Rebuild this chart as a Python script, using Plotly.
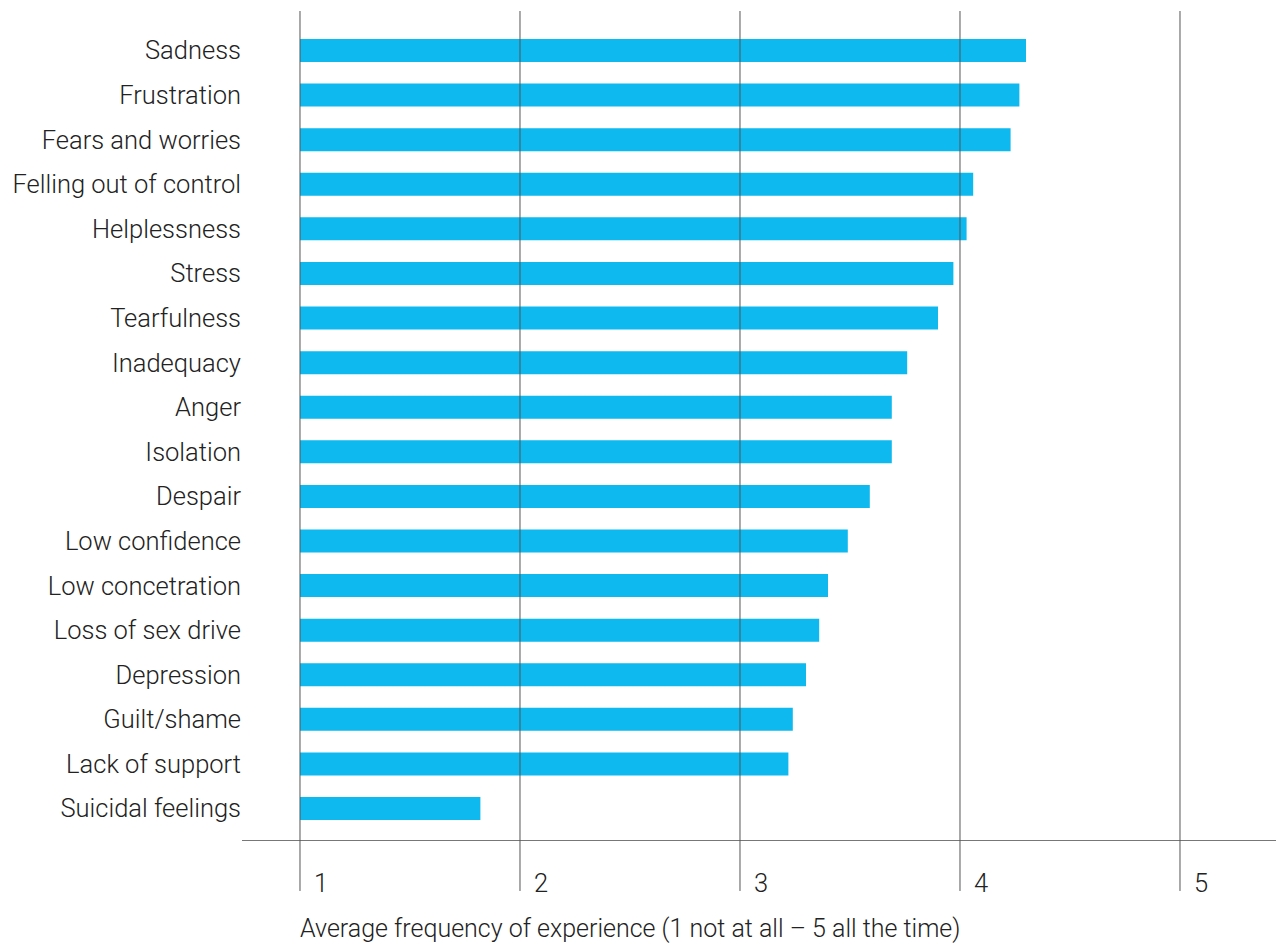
import plotly.graph_objects as go

categories = ["Sadness", "Frustration", "Fears and worries", "Felling out of control",
              "Helplessness", "Stress", "Tearfulness", "Inadequacy", "Anger", "Isolation",
              "Despair", "Low confidence", "Low concetration", "Loss of sex drive",
              "Depression", "Guilt/shame", "Lack of support", "Suicidal feelings"]
values = [4.30, 4.27, 4.23, 4.06, 4.03, 3.97, 3.90, 3.76, 3.69, 3.69,
          3.59, 3.49, 3.40, 3.36, 3.30, 3.24, 3.22, 1.82]
tick_values = [1, 2, 3, 4, 5]
tick_labels = ["1", "2", "3", "4", "5"]
axis_title = "Average frequency of experience (1 not at all – 5 all the time)"

cats = categories[::-1]
vals = values[::-1]
base_val = 1

FONT = dict(family="Roboto", size=25.5, color="#222222", weight=300)
TITLE_FONT = dict(family="Roboto", size=25, color="#222222", weight=300)

fig = go.Figure()
fig.add_trace(go.Bar(
    y=cats, x=[v - base_val for v in vals], base=base_val, orientation="h",
    marker=dict(color="#0DB9EE", line=dict(width=0)), width=0.516,
    hoverinfo="skip",
))

shapes = []
for tv in tick_values:
    shapes.append(dict(type="line", xref="x", yref="paper", x0=tv, x1=tv,
                       y0=-0.0615, y1=1, layer="above",
                       line=dict(color="#555555", width=1)))

annotations = []
for tv, tl in zip(tick_values, tick_labels):
    annotations.append(dict(x=tv, y=-0.052, xref="x", yref="paper", text=tl,
                            showarrow=False, xanchor="left", yanchor="middle",
                            xshift=12, font=FONT))
annotations.append(dict(x=base_val, y=-0.1065, xref="x", yref="paper", text=axis_title,
                        showarrow=False, xanchor="left", yanchor="middle",
                        xshift=-2, font=TITLE_FONT))

fig.update_layout(
    width=1276, height=947,
    margin=dict(l=242, r=0, t=11, b=107),
    paper_bgcolor="white", plot_bgcolor="white",
    showlegend=False,
    font=FONT,
    shapes=shapes, annotations=annotations,
    xaxis=dict(range=[0.7364, 5.4364], showgrid=False, zeroline=False,
               showticklabels=False, ticks="", showline=True,
               linecolor="#777777", linewidth=1, fixedrange=True),
    yaxis=dict(categoryorder="array", categoryarray=cats,
               range=[-0.706, 17.886], showgrid=False, zeroline=False,
               ticks="", ticklen=0, showline=False, tickfont=FONT,
               fixedrange=True),
    bargap=0.48,
)

fig.write_html("out.html")
